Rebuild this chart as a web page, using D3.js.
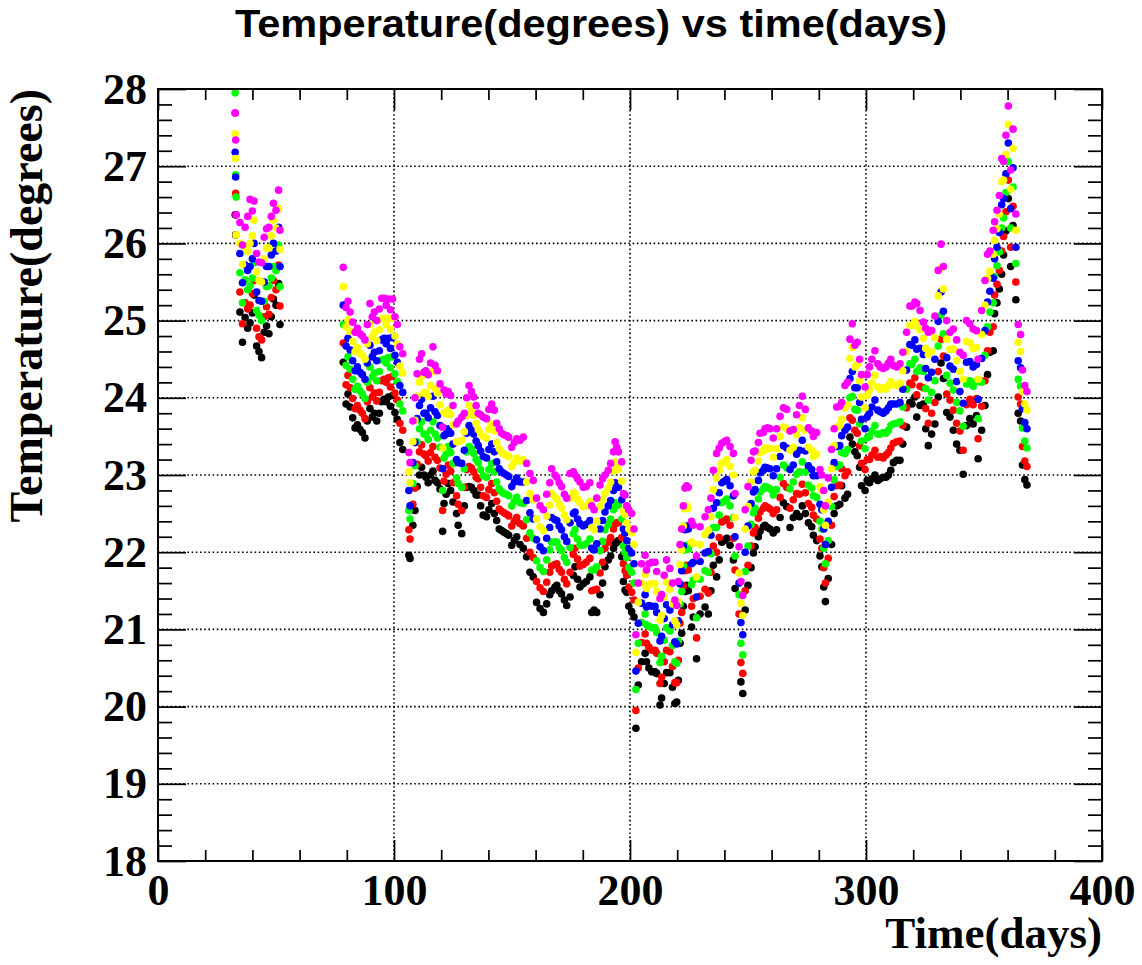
<!DOCTYPE html>
<html><head><meta charset="utf-8">
<script src="https://cdn.jsdelivr.net/npm/d3@7"></script>
<style>body{margin:0;background:#fff}</style>
</head><body>
<svg id="c" width="1142" height="965"></svg>
<script>
const days = [32.7,32.9,33.1,34.7,35.8,36.9,38.0,39.0,40.0,40.7,41.8,42.8,43.9,45.0,46.0,47.0,48.0,48.9,50.0,51.1,51.7,
78.5,79.7,80.5,81.4,82.5,83.5,84.5,85.6,86.6,87.7,
88.7,89.8,90.8,91.7,92.7,93.8,94.8,95.8,96.7,97.6,
98.5,99.4,100.4,101.4,102.5,103.7,106.3,106.8,108.0,108.9,
109.8,110.8,111.7,112.7,113.5,114.5,115.5,116.5,117.4,118.4,
119.5,120.6,121.2,122.1,123.0,124.0,125.0,126.5,127.2,128.7,
129.8,130.8,131.8,132.8,133.8,134.8,135.7,136.7,137.8,139.2,
140.2,141.4,142.5,143.5,144.6,145.6,146.6,147.7,148.6,149.9,
151.0,152.0,153.4,154.8,156.2,157.6,159.0,160.4,161.9,163.3,
164.7,166.0,166.8,168.2,169.0,170.0,171.0,172.2,173.2,174.6,
176.0,176.7,177.8,178.8,180.2,181.5,183.0,183.8,184.8,185.9,
187.3,188.4,189.4,190.8,191.8,193.0,193.7,194.4,195.1,196.5,
197.2,197.9,198.6,199.5,200.7,201.7,202.5,203.5,204.9,206.4,
207.0,208.0,209.2,210.6,211.3,212.7,213.4,214.5,215.5,216.9,
218.0,219.0,219.8,220.5,221.2,221.9,222.6,223.3,224.0,224.7,
226.1,226.8,228.2,229.7,231.8,233.2,234.3,235.3,236.7,237.8,
238.9,240.0,241.0,242.4,243.8,244.5,246.2,247.0,247.8,248.8,
250.0,251.3,252.3,253.0,254.4,255.1,256.5,257.2,258.3,259.3,
260.7,262.1,263.6,265.0,266.4,267.8,269.2,270.6,271.8,273.0,
274.3,275.6,277.0,277.7,279.1,280.5,281.3,282.1,282.8,284.0,
285.4,286.5,287.6,288.9,289.7,291.1,292.2,293.2,294.2,295.3,
296.3,297.3,298.1,299.6,300.5,301.5,302.5,303.8,305.0,306.0,
307.3,308.5,309.5,310.5,311.6,313.0,314.4,315.6,317.2,318.6,
319.5,320.7,321.5,322.9,324.3,325.3,326.4,327.8,329.2,330.6,
331.8,332.8,334.2,335.6,337.0,338.4,339.8,341.2,342.6,344.0,
345.4,346.8,347.5,349.0,350.4,351.5,352.5,353.9,354.5,355.5,
356.5,357.5,358.3,359.3,360.3,361.3,362.3,363.5,364.5,365.5,
366.3,367.3,368.2];

const black = [26.37,26.11,null,25.11,24.72,25.04,24.90,24.97,25.10,25.33,24.67,24.60,24.52,24.85,24.93,24.83,25.05,25.28,25.20,25.48,24.95,
24.46,23.92,24.05,23.88,23.74,23.61,23.65,23.59,23.55,23.48,
23.70,23.86,23.75,23.80,23.70,23.80,23.95,23.98,23.95,24.01,
23.89,24.03,23.81,23.72,23.42,23.33,21.96,21.92,22.35,22.54,
22.85,23.00,23.10,23.00,22.97,22.90,23.00,23.05,22.93,22.90,
22.82,22.27,22.63,22.75,22.89,22.80,22.65,22.50,22.35,22.24,
22.60,22.84,22.85,22.84,22.80,22.74,22.74,22.60,22.48,22.46,
22.55,22.63,22.50,22.41,22.30,22.28,22.26,22.24,22.22,22.09,
22.15,22.20,22.10,22.05,21.94,21.74,21.68,21.35,21.27,21.22,
21.33,21.45,21.50,21.55,21.57,21.50,21.46,21.38,21.31,21.42,
21.70,21.81,21.65,21.55,21.59,21.62,21.68,21.22,21.25,21.22,
21.45,21.60,21.81,21.90,21.95,22.05,22.11,22.13,22.15,21.94,
21.62,21.51,21.48,21.30,21.23,21.16,19.72,20.28,20.58,20.69,
20.58,20.50,20.45,20.45,20.43,20.02,20.11,20.30,20.44,20.44,
20.25,20.04,20.06,20.34,20.82,20.95,21.30,21.49,21.57,21.50,
21.03,21.16,20.62,21.20,21.29,21.20,21.50,21.83,21.68,21.90,
22.13,22.15,22.18,22.09,21.90,21.53,null,20.32,20.17,21.25,
21.57,21.80,21.99,22.07,22.20,22.27,22.33,22.35,22.32,22.30,
22.25,22.29,22.45,22.64,22.59,22.32,22.45,22.50,22.46,22.60,
22.50,22.38,22.33,22.22,22.15,21.95,21.81,21.55,21.36,21.66,
22.10,22.50,22.60,22.62,22.86,22.70,22.75,23.49,23.40,23.30,
23.25,23.10,22.86,22.80,22.93,22.90,22.95,23.00,22.93,22.95,
22.97,22.97,23.00,23.06,23.16,23.19,23.19,23.40,23.62,23.94,
23.92,24.01,23.75,23.90,23.92,23.60,23.38,23.53,23.66,24.01,
24.45,24.25,23.81,23.75,23.58,23.40,23.32,23.01,23.64,23.73,
23.66,23.77,23.21,23.58,23.90,24.30,24.59,24.61,25.09,25.23,
25.41,25.60,25.85,26.16,26.58,25.70,26.23,25.27,23.80,23.70,
23.13,22.94,22.87];

const red = [27.69,26.65,26.37,25.37,24.96,25.23,25.15,25.20,25.35,25.52,24.90,24.79,24.75,25.05,25.18,25.08,25.30,25.52,25.40,25.72,25.19,
24.71,24.17,24.29,24.13,23.99,23.86,23.90,23.84,23.80,23.73,
23.95,24.13,24.01,24.06,23.96,24.07,24.22,24.24,24.20,24.26,
24.14,24.28,24.06,23.97,23.67,23.58,22.29,22.17,22.62,22.83,
23.14,23.30,23.39,23.27,23.25,23.18,23.29,23.37,23.23,23.19,
23.09,22.54,22.92,23.01,23.13,23.05,22.90,22.73,22.62,22.54,
22.84,23.07,23.11,23.09,23.04,22.97,22.95,22.84,22.73,22.71,
22.81,22.89,22.77,22.66,22.56,22.53,22.51,22.49,22.47,22.34,
22.40,22.45,22.37,22.34,22.18,22.00,21.93,21.62,21.54,21.49,
21.61,21.74,21.82,21.84,21.85,21.78,21.74,21.65,21.59,21.74,
21.97,22.05,21.91,21.82,21.84,21.87,21.92,21.50,21.51,21.52,
21.73,21.87,22.05,22.13,22.19,22.30,22.37,22.38,22.38,22.19,
21.85,21.76,21.70,21.55,21.48,21.38,19.95,20.50,20.83,20.94,
20.82,20.77,20.73,20.73,20.69,20.30,20.38,20.58,20.73,20.71,
20.52,20.31,20.31,20.60,21.08,21.22,21.56,21.76,21.83,21.77,
21.30,21.40,20.89,21.43,21.52,21.47,21.74,22.08,22.00,22.19,
22.39,22.41,22.43,22.35,22.18,21.77,21.20,20.57,20.43,21.50,
21.83,22.08,22.25,22.32,22.44,22.52,22.57,22.60,22.58,22.56,
22.50,22.55,22.71,22.89,22.84,22.57,22.68,22.76,22.75,22.88,
22.77,22.63,22.58,22.48,22.43,22.17,22.05,21.80,21.60,21.92,
22.35,22.72,22.86,22.87,23.08,22.99,23.04,23.74,23.71,23.58,
23.54,23.38,23.15,23.07,23.20,23.20,23.26,23.32,23.23,23.24,
23.22,23.26,23.29,23.35,23.41,23.43,23.44,23.64,23.87,24.19,
24.17,24.26,24.04,24.15,24.13,23.86,23.67,23.80,23.94,24.34,
24.76,24.54,24.05,23.97,23.84,23.67,23.57,23.32,23.91,23.98,
23.91,23.99,23.47,23.89,24.22,24.61,24.85,24.92,25.33,25.47,
25.65,25.90,26.09,26.41,26.82,25.95,26.48,25.50,24.01,23.92,
23.37,23.18,23.11];

const green = [27.95,26.89,26.60,25.62,25.23,25.53,25.40,25.45,25.55,25.75,25.13,25.07,25.00,25.25,25.44,25.45,25.55,25.70,25.65,25.98,25.44,
24.95,24.42,24.53,24.37,24.24,24.11,24.15,24.09,24.05,23.99,
24.20,24.40,24.27,24.32,24.22,24.34,24.49,24.50,24.45,24.52,
24.39,24.53,24.31,24.21,23.92,23.83,22.54,22.43,22.89,23.12,
23.43,23.60,23.69,23.53,23.52,23.46,23.58,23.69,23.53,23.48,
23.36,22.80,23.22,23.27,23.37,23.29,23.15,22.96,22.89,22.84,
23.08,23.30,23.37,23.34,23.28,23.20,23.16,23.07,22.99,22.97,
23.07,23.15,23.04,22.91,22.82,22.78,22.76,22.75,22.73,22.60,
22.66,22.71,22.64,22.63,22.42,22.25,22.18,21.89,21.80,21.75,
21.90,22.03,22.13,22.13,22.13,22.06,22.02,21.93,21.87,22.06,
22.24,22.29,22.17,22.09,22.09,22.11,22.17,21.77,21.77,21.81,
22.02,22.14,22.29,22.36,22.43,22.55,22.64,22.62,22.61,22.43,
22.08,22.00,21.93,21.80,21.74,21.60,20.22,20.82,21.09,21.20,
21.06,21.04,21.02,21.02,20.96,20.57,20.65,20.86,21.02,20.98,
20.79,20.58,20.56,20.85,21.33,21.49,21.82,22.03,22.09,22.04,
21.58,21.64,21.15,21.65,21.76,21.74,21.98,22.32,22.32,22.48,
22.64,22.66,22.69,22.60,22.45,21.95,21.45,20.82,20.67,21.75,
22.08,22.36,22.51,22.57,22.69,22.78,22.82,22.85,22.84,22.82,
22.74,22.81,22.97,23.13,23.09,22.82,22.91,23.01,23.04,23.17,
23.04,22.87,22.83,22.73,22.71,22.40,22.30,22.05,21.85,22.15,
22.59,22.94,23.11,23.13,23.29,23.28,23.33,24.00,24.02,23.85,
23.84,23.66,23.44,23.34,23.48,23.50,23.57,23.64,23.53,23.53,
23.55,23.54,23.58,23.64,23.66,23.67,23.69,23.88,24.11,24.44,
24.43,24.50,24.34,24.39,24.34,24.12,23.97,24.07,24.22,24.67,
25.07,24.83,24.29,24.19,24.10,23.94,23.83,23.63,24.18,24.22,
24.15,24.21,23.73,24.20,24.55,24.92,25.11,25.23,25.57,25.71,
25.89,26.20,26.33,26.66,27.06,26.20,26.73,25.74,24.24,24.15,
23.61,23.44,23.35];

const blue = [27.18,26.86,null,25.87,25.49,25.72,25.65,25.70,25.80,26.00,25.37,25.26,25.25,25.50,25.70,25.70,25.85,26.00,25.90,26.21,25.70,
25.20,24.67,24.77,24.62,24.48,24.35,24.40,24.33,24.30,24.24,
24.45,24.68,24.53,24.59,24.48,24.61,24.75,24.77,24.70,24.77,
24.64,24.78,24.55,24.46,24.16,24.07,22.80,22.60,23.16,23.42,
23.73,23.90,23.98,23.80,23.80,23.74,23.87,24.02,23.82,23.77,
23.64,23.08,23.51,23.53,23.60,23.54,23.40,23.20,23.16,23.15,
23.32,23.54,23.64,23.58,23.53,23.44,23.38,23.31,23.24,23.22,
23.33,23.40,23.30,23.17,23.08,23.04,23.02,23.00,22.98,22.85,
22.91,22.96,22.91,22.91,22.67,22.51,22.43,22.16,22.07,22.02,
22.18,22.32,22.45,22.42,22.41,22.34,22.29,22.20,22.14,22.38,
22.50,22.52,22.43,22.37,22.34,22.36,22.41,22.05,22.03,22.11,
22.30,22.41,22.52,22.60,22.67,22.80,22.90,22.87,22.84,22.68,
22.30,22.25,22.15,22.05,21.99,21.85,20.46,21.08,21.34,21.45,
21.29,21.31,21.30,21.30,21.22,20.85,20.91,21.14,21.32,21.25,
21.06,20.84,20.81,21.11,21.59,21.76,22.08,22.29,22.34,22.30,
21.85,21.87,21.42,21.88,21.99,22.01,22.22,22.57,22.64,22.77,
22.90,22.92,22.94,22.86,22.73,22.20,21.60,21.09,20.93,22.00,
22.34,22.63,22.78,22.81,22.93,23.03,23.06,23.10,23.09,23.08,
22.99,23.08,23.24,23.38,23.35,23.07,23.13,23.27,23.32,23.45,
23.31,23.12,23.07,22.99,22.99,22.62,22.55,22.30,22.10,22.40,
22.84,23.16,23.37,23.38,23.51,23.58,23.62,24.25,24.34,24.13,
24.13,23.94,23.72,23.60,23.75,23.80,23.88,23.97,23.84,23.82,
23.80,23.83,23.87,23.92,23.92,23.92,23.94,24.11,24.36,24.69,
24.68,24.75,24.63,24.64,24.56,24.38,24.26,24.33,24.50,24.99,
25.37,25.12,24.52,24.41,24.37,24.21,24.08,23.93,24.46,24.47,
24.40,24.43,23.98,24.51,24.87,25.24,25.38,25.55,25.80,25.95,
26.14,26.50,26.58,26.90,27.30,26.45,26.98,25.95,24.48,24.39,
23.86,23.68,23.60];

const yellow = [27.42,27.10,26.11,26.00,25.73,25.95,25.90,26.00,26.10,26.30,25.63,25.52,25.50,25.80,25.94,25.94,26.10,26.30,26.20,26.45,25.92,
25.44,24.92,25.01,24.86,24.73,24.60,24.65,24.58,24.55,24.50,
24.70,24.95,24.79,24.85,24.74,24.88,25.02,25.03,24.95,25.03,
24.89,25.03,24.80,24.70,24.41,24.32,23.04,22.90,23.43,23.71,
24.02,24.20,24.28,24.06,24.07,24.02,24.16,24.34,24.12,24.06,
23.91,23.35,23.81,23.79,23.84,23.78,23.65,23.43,23.43,23.45,
23.56,23.77,23.90,23.83,23.77,23.67,23.59,23.54,23.50,23.48,
23.59,23.66,23.57,23.42,23.34,23.29,23.27,23.26,23.24,23.11,
23.17,23.22,23.18,23.20,22.91,22.76,22.68,22.43,22.33,22.28,
22.47,22.61,22.76,22.71,22.69,22.62,22.57,22.48,22.42,22.70,
22.77,22.76,22.69,22.64,22.59,22.60,22.66,22.32,22.29,22.40,
22.59,22.68,22.76,22.83,22.91,23.05,23.17,23.11,23.07,22.92,
22.53,22.49,22.38,22.30,22.25,22.10,20.70,21.35,21.60,21.71,
21.53,21.58,21.59,21.59,21.49,21.12,21.18,21.42,21.61,21.52,
21.33,21.11,21.06,21.36,21.84,22.03,22.34,22.56,22.60,22.57,
22.13,22.11,21.68,22.10,22.23,22.28,22.46,22.81,22.96,23.06,
23.15,23.17,23.20,23.11,23.00,22.45,21.73,21.34,21.18,22.30,
22.59,22.91,23.04,23.06,23.18,23.29,23.31,23.35,23.35,23.34,
23.23,23.34,23.50,23.62,23.60,23.32,23.36,23.52,23.61,23.74,
23.58,23.36,23.32,23.24,23.27,22.85,22.80,22.55,22.35,22.65,
23.08,23.38,23.62,23.64,23.72,23.87,23.91,24.51,24.65,24.40,
24.43,24.22,24.01,23.87,24.03,24.10,24.19,24.29,24.14,24.11,
24.13,24.11,24.16,24.21,24.17,24.16,24.19,24.35,24.60,24.94,
24.94,24.99,24.93,24.88,24.77,24.64,24.56,24.60,24.78,25.32,
25.68,25.41,24.76,24.63,24.63,24.48,24.34,24.24,24.73,24.71,
24.64,24.65,24.24,24.82,25.20,25.55,25.64,25.86,26.04,26.19,
26.38,26.80,26.82,27.15,27.54,26.70,27.23,26.17,24.72,24.60,
24.08,23.92,23.84];

const magenta = [27.69,27.34,26.37,26.27,25.98,26.21,26.35,26.57,26.42,26.55,25.87,25.76,25.75,26.08,26.19,26.21,26.35,26.52,26.43,26.69,26.17,
25.69,25.17,25.25,25.11,24.98,24.85,24.90,24.83,24.80,24.75,
24.95,25.22,25.05,25.11,25.00,25.15,25.29,25.29,25.20,25.28,
25.14,25.28,25.05,24.95,24.66,24.57,23.29,23.16,23.70,24.00,
24.31,24.50,24.57,24.33,24.35,24.30,24.45,24.66,24.42,24.35,
24.18,23.62,24.10,24.05,24.08,24.03,23.90,23.66,23.70,23.75,
23.80,24.00,24.16,24.08,24.01,23.90,23.80,23.78,23.75,23.73,
23.85,23.92,23.84,23.67,23.60,23.54,23.52,23.51,23.49,23.36,
23.42,23.47,23.45,23.49,23.15,23.02,22.93,22.70,22.60,22.55,
22.75,22.90,23.08,23.00,22.97,22.90,22.85,22.75,22.70,23.02,
23.04,23.00,22.95,22.91,22.84,22.85,22.90,22.60,22.55,22.70,
22.87,22.95,23.00,23.06,23.15,23.30,23.43,23.36,23.30,23.17,
22.76,22.74,22.60,22.55,22.50,22.30,20.93,21.60,21.85,21.96,
21.77,21.85,21.87,21.87,21.75,21.40,21.45,21.70,21.90,21.79,
21.60,21.38,21.31,21.62,22.10,22.30,22.60,22.83,22.86,22.84,
22.40,22.35,21.95,22.33,22.46,22.55,22.70,23.06,23.28,23.35,
23.41,23.43,23.45,23.37,23.28,22.76,22.07,21.62,21.44,22.55,
22.85,23.19,23.30,23.31,23.42,23.54,23.55,23.60,23.61,23.60,
23.48,23.60,23.76,23.87,23.85,23.57,23.59,23.78,23.90,24.02,
23.85,23.61,23.57,23.50,23.55,23.07,23.00,22.80,22.60,22.96,
23.33,23.60,23.88,23.89,23.94,24.16,24.20,24.76,24.96,24.68,
24.72,24.50,24.30,24.14,24.30,24.40,24.50,24.61,24.44,24.40,
24.38,24.40,24.45,24.50,24.42,24.40,24.44,24.59,24.85,25.19,
25.19,25.24,25.22,25.13,24.98,24.90,24.85,24.87,25.06,25.65,
25.99,25.70,25.00,24.85,24.89,24.75,24.59,24.55,25.00,24.96,
24.89,24.87,24.50,25.13,25.52,25.86,25.90,26.17,26.28,26.43,
26.62,27.10,27.06,27.40,27.78,26.95,27.48,26.38,24.95,24.82,
24.36,24.16,24.08];

const xMajor = [0, 100, 200, 300, 400];
const yMajor = [18, 19, 20, 21, 22, 23, 24, 25, 26, 27, 28];
const seriesColors = ["#000000", "#ff0000", "#00ff00", "#0000ff", "#ffff00", "#ff00ff"];
const seriesValues = [black, red, green, blue, yellow, magenta];

const L = 158, R = 1102, T = 89, B = 861;
const x = d3.scaleLinear().domain([0, 400]).range([L, R]);
const y = d3.scaleLinear().domain([18, 28]).range([B, T]);
const svg = d3.select("#c");
svg.append("rect").attr("width", 1142).attr("height", 965).attr("fill", "#fff");

// grid
const grid = svg.append("g").attr("stroke", "#000").attr("stroke-width", 1.6).attr("stroke-dasharray", "1.6,2.6");
grid.selectAll(".gx").data(xMajor.slice(1, -1)).join("line")
  .attr("x1", d => x(d)).attr("x2", d => x(d)).attr("y1", T).attr("y2", B);
grid.selectAll(".gy").data(yMajor.slice(1, -1)).join("line")
  .attr("x1", L).attr("x2", R).attr("y1", d => y(d)).attr("y2", d => y(d));

// points
seriesValues.forEach((vals, si) => {
  const pts = days.map((d, i) => [d, vals[i]]).filter(p => p[1] !== null);
  svg.append("g").selectAll("circle").data(pts).join("circle")
    .attr("cx", p => x(p[0])).attr("cy", p => y(p[1])).attr("r", 3.8)
    .attr("fill", seriesColors[si]);
});

// axes
const xMinor = d3.range(0, 401, 20).filter(v => v % 100 !== 0);
const yMinor = d3.range(180, 281, 2).map(v => v / 10).filter(v => Math.abs(v - Math.round(v)) > 1e-6);
function styleAxis(g) { g.select(".domain").remove(); g.selectAll("line").attr("stroke", "#000").attr("stroke-width", 1.7); }

svg.append("g").attr("transform", `translate(0,${B})`)
  .call(d3.axisBottom(x).tickValues(xMajor).tickSize(-21).tickPadding(13).tickFormat(d3.format("d")))
  .call(styleAxis)
  .call(g => g.selectAll("text").attr("font-family", "'Liberation Serif','Times New Roman',serif")
    .attr("font-weight", "bold").attr("font-size", 44).attr("fill", "#000"));
svg.append("g").attr("transform", `translate(0,${B})`)
  .call(d3.axisBottom(x).tickValues(xMinor).tickSize(-11).tickFormat("")).call(styleAxis);
svg.append("g").attr("transform", `translate(0,${T})`)
  .call(d3.axisTop(x).tickValues(xMajor).tickSize(-21).tickFormat("")).call(styleAxis);
svg.append("g").attr("transform", `translate(0,${T})`)
  .call(d3.axisTop(x).tickValues(xMinor).tickSize(-11).tickFormat("")).call(styleAxis);

svg.append("g").attr("transform", `translate(${L},0)`)
  .call(d3.axisLeft(y).tickValues(yMajor).tickSize(-28).tickPadding(11).tickFormat(d3.format("d")))
  .call(styleAxis)
  .call(g => g.selectAll("text").attr("font-family", "'Liberation Serif','Times New Roman',serif")
    .attr("font-weight", "bold").attr("font-size", 44).attr("fill", "#000"));
svg.append("g").attr("transform", `translate(${L},0)`)
  .call(d3.axisLeft(y).tickValues(yMinor).tickSize(-14).tickFormat("")).call(styleAxis);
svg.append("g").attr("transform", `translate(${R},0)`)
  .call(d3.axisRight(y).tickValues(yMajor).tickSize(-28).tickFormat("")).call(styleAxis);
svg.append("g").attr("transform", `translate(${R},0)`)
  .call(d3.axisRight(y).tickValues(yMinor).tickSize(-14).tickFormat("")).call(styleAxis);

// frame
svg.append("rect").attr("x", L).attr("y", T).attr("width", R - L).attr("height", B - T)
  .attr("fill", "none").attr("stroke", "#000").attr("stroke-width", 2);

// titles
svg.append("text").attr("x", 591).attr("y", 37).attr("text-anchor", "middle")
  .attr("font-family", "'Liberation Sans',Arial,Helvetica,sans-serif").attr("font-weight", "bold")
  .attr("font-size", 39).attr("textLength", 712).attr("lengthAdjust", "spacingAndGlyphs")
  .text("Temperature(degrees) vs time(days)");
svg.append("text").attr("x", R).attr("y", 948).attr("text-anchor", "end")
  .attr("font-family", "'Liberation Serif','Times New Roman',serif").attr("font-weight", "bold")
  .attr("font-size", 45).text("Time(days)");
svg.append("text").attr("transform", `translate(42,${T}) rotate(-90)`).attr("text-anchor", "end")
  .attr("font-family", "'Liberation Serif','Times New Roman',serif").attr("font-weight", "bold")
  .attr("font-size", 46).text("Temperature(degrees)");
</script>
</body></html>
